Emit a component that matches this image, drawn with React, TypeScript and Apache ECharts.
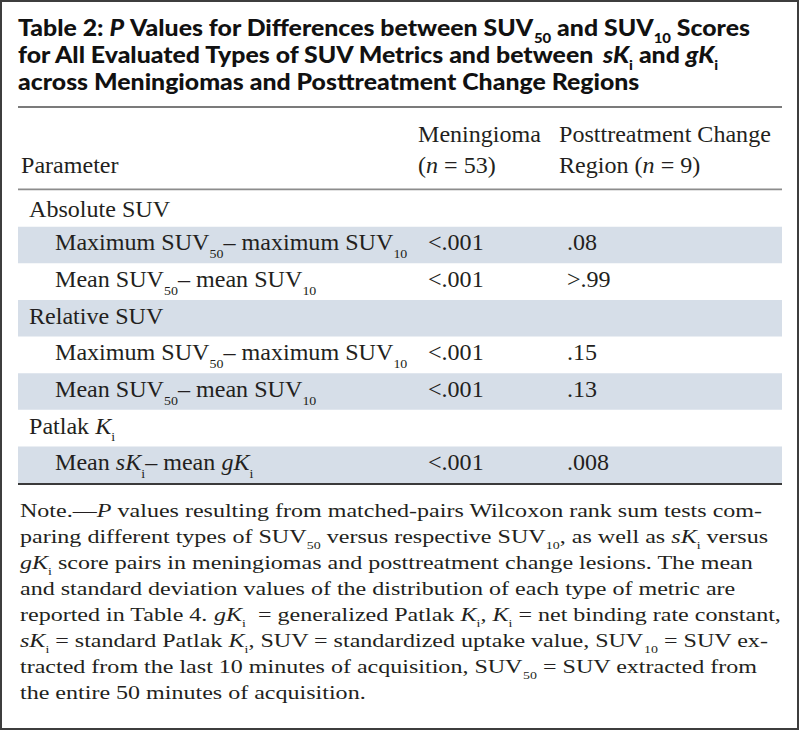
import React, { useEffect, useRef } from "react";
import * as echarts from "echarts";

// ---------- content ----------
const titleLines = [
  "Table 2: *P* Values for Differences between SUV_{50} and SUV_{10} Scores",
  "for All Evaluated Types of SUV Metrics and between *sK*_{i} and *gK*_{i}",
  "across Meningiomas and Posttreatment Change Regions",
];
const headerParameter = "Parameter";
const headerMeningioma = ["Meningioma", "(*n* = 53)"];
const headerPosttreatment = ["Posttreatment Change", "Region (*n* = 9)"];

const parameters = [
  "Absolute SUV",
  "Maximum SUV_{50}– maximum SUV_{10}",
  "Mean SUV_{50}– mean SUV_{10}",
  "Relative SUV",
  "Maximum SUV_{50}– maximum SUV_{10}",
  "Mean SUV_{50}– mean SUV_{10}",
  "Patlak *K*_{i}",
  "Mean *sK*_{i}– mean *gK*_{i}",
];
const isGroupRow = [true, false, false, true, false, false, true, false];
const shadedRow = [false, true, false, true, false, true, false, true];
const meningiomaP = ["", "<.001", "<.001", "", "<.001", "<.001", "", "<.001"];
const posttreatmentP = ["", ".08", ">.99", "", ".15", ".13", "", ".008"];

const noteLines = [
  "Note.—*P* values resulting from matched-pairs Wilcoxon rank sum tests com-",
  "paring different types of SUV_{50} versus respective SUV_{10}, as well as *sK*_{i} versus",
  "*gK*_{i} score pairs in meningiomas and posttreatment change lesions. The mean",
  "and standard deviation values of the distribution of each type of metric are",
  "reported in Table 4. *gK*_{i}  = generalized Patlak *K*_{i}, *K*_{i} = net binding rate constant,",
  "*sK*_{i} = standard Patlak *K*_{i}, SUV = standardized uptake value, SUV_{10} = SUV ex-",
  "tracted from the last 10 minutes of acquisition, SUV_{50} = SUV extracted from",
  "the entire 50 minutes of acquisition.",
];

// ---------- layout / style ----------
const W = 800;
const H = 731;
const TABLE_LEFT = 18;
const TABLE_RIGHT = 782;
const SERIF = '"Liberation Serif", "Times New Roman", serif';
const SANS = 'Lato, "Open Sans", sans-serif';
const INK = "#231f20";
const SHADE = "#d6dee8";

type Font = {
  family: string;
  size: number;
  weight: string;
  subRatio: number;
  subShift: number;
  centralK: number;
  fill: string;
  scaleX: number;
};

type Seg = { text: string; italic: boolean; sub: boolean };

function parse(m: string): Seg[] {
  const segs: Seg[] = [];
  let italic = false;
  let buf = "";
  let i = 0;
  const flush = () => {
    if (buf) segs.push({ text: buf, italic, sub: false });
    buf = "";
  };
  while (i < m.length) {
    const c = m[i];
    if (c === "*") {
      flush();
      italic = !italic;
      i++;
      continue;
    }
    if (c === "_" && m[i + 1] === "{") {
      flush();
      const end = m.indexOf("}", i);
      segs.push({ text: m.slice(i + 2, end), italic: false, sub: true });
      i = end + 1;
      continue;
    }
    buf += c;
    i++;
  }
  flush();
  return segs;
}

let ctx: CanvasRenderingContext2D | null = null;
function measure(text: string, font: string): number {
  if (!ctx) ctx = document.createElement("canvas").getContext("2d");
  if (!ctx) return text.length * 8;
  ctx.font = font;
  return ctx.measureText(text).width;
}

function fontStr(f: Font, italic: boolean, size: number) {
  return `${italic ? "italic " : ""}${f.weight} ${size}px ${f.family}`;
}

function layoutLine(markup: string, f: Font) {
  const segs = parse(markup);
  let cx = 0;
  const children: any[] = [];
  for (const s of segs) {
    const size = s.sub ? f.size * f.subRatio : f.size;
    const fs = fontStr(f, s.italic, size);
    const lead = (s.text.match(/^ */) as RegExpMatchArray)[0].length;
    const trail = (s.text.match(/ *$/) as RegExpMatchArray)[0].length;
    const core = s.text.trim();
    if (lead) cx += measure(" ".repeat(lead), fs);
    if (core) {
      const base = s.sub ? f.size * f.subShift : 0;
      children.push({
        type: "text",
        x: cx,
        y: base - f.centralK * size,
        silent: true,
        style: {
          text: core,
          fontFamily: f.family,
          fontSize: size,
          fontWeight: f.weight,
          fontStyle: s.italic ? "italic" : "normal",
          fill: f.fill,
          align: "left",
          verticalAlign: "middle",
        },
      });
      cx += measure(core, fs);
    }
    if (trail && core) cx += measure(" ".repeat(trail), fs);
  }
  return { children, width: cx };
}

function lineGroup(markup: string, f: Font, x: number, baseline: number) {
  const { children } = layoutLine(markup, f);
  return { type: "group", x, y: baseline, scaleX: f.scaleX, children };
}

function buildOption() {
  const titleFont: Font = {
    family: SANS,
    size: 22,
    weight: "900",
    subRatio: 0.6,
    subShift: 0.32,
    centralK: 0.387,
    fill: "#111111",
    scaleX: 1,
  };
  titleFont.scaleX = 732 / layoutLine(titleLines[0], titleFont).width;

  const bodyFont: Font = {
    family: SERIF,
    size: 23,
    weight: "normal",
    subRatio: 0.58,
    subShift: 0.34,
    centralK: 0.3375,
    fill: INK,
    scaleX: 1,
  };
  bodyFont.scaleX = 212 / layoutLine(headerPosttreatment[0], bodyFont).width;

  const noteFont: Font = {
    family: SERIF,
    size: 19.5,
    weight: "normal",
    subRatio: 0.58,
    subShift: 0.34,
    centralK: 0.3375,
    fill: INK,
    scaleX: 1,
  };
  noteFont.scaleX = 716 / layoutLine(noteLines[3], noteFont).width;

  const graphics: any[] = [];
  titleLines.forEach((l, k) => graphics.push(lineGroup(l, titleFont, 18, 36 + 27 * k)));
  graphics.push(lineGroup(headerParameter, bodyFont, 21, 173));
  headerMeningioma.forEach((l, k) => graphics.push(lineGroup(l, bodyFont, 418, 142 + 31 * k)));
  headerPosttreatment.forEach((l, k) => graphics.push(lineGroup(l, bodyFont, 559, 142 + 31 * k)));
  noteLines.forEach((l, k) => graphics.push(lineGroup(l, noteFont, 20, 517 + 26 * k)));

  // rules
  graphics.push({ type: "rect", z: 10, shape: { x: TABLE_LEFT, y: 106, width: TABLE_RIGHT - TABLE_LEFT, height: 2 }, style: { fill: "#7b7b7b" } });
  graphics.push({ type: "rect", z: 10, shape: { x: TABLE_LEFT, y: 188.5, width: TABLE_RIGHT - TABLE_LEFT, height: 1.8 }, style: { fill: "#8c8c8c" } });
  graphics.push({ type: "rect", z: 10, shape: { x: TABLE_LEFT, y: 483, width: TABLE_RIGHT - TABLE_LEFT, height: 2 }, style: { fill: "#3a3a3a" } });
  graphics.push({ type: "rect", z: 10, shape: { x: 1, y: 1, width: 797, height: 728 }, style: { fill: "none", stroke: "#3d3d3d", lineWidth: 2 } });

  return {
    animation: false,
    backgroundColor: "#ffffff",
    grid: { left: TABLE_LEFT, right: W - TABLE_RIGHT, top: 190, height: 293 },
    xAxis: { type: "value", min: 0, max: 1, show: false },
    yAxis: {
      type: "category",
      data: parameters.map((_, i) => String(i)),
      inverse: true,
      show: false,
    },
    graphic: { elements: graphics },
    series: [
      {
        type: "custom",
        silent: true,
        encode: { x: 0, y: 1 },
        data: parameters.map((_, i) => [0, i]),
        renderItem: (params: any, api: any) => {
          const i = params.dataIndex;
          const cs = params.coordSys;
          const cy = api.coord([0, i])[1];
          const bandH = api.size([0, 1])[1];
          const children: any[] = [];
          if (shadedRow[i]) {
            children.push({
              type: "rect",
              shape: { x: cs.x, y: cy - bandH / 2, width: cs.width, height: bandH },
              style: { fill: SHADE },
            });
          }
          const baseline = cy + 5.5 + (i === 0 ? 3.5 : 0);
          children.push(lineGroup(parameters[i], bodyFont, cs.x + (isGroupRow[i] ? 11 : 37), baseline));
          if (meningiomaP[i]) children.push(lineGroup(meningiomaP[i], bodyFont, 428, baseline));
          if (posttreatmentP[i]) children.push(lineGroup(posttreatmentP[i], bodyFont, 567, baseline));
          return { type: "group", children };
        },
      },
    ],
  };
}

export default function App() {
  const ref = useRef<HTMLDivElement>(null);
  useEffect(() => {
    const el = ref.current;
    if (!el) return;
    const chart = echarts.init(el, null, { renderer: "svg", width: W, height: H });
    chart.setOption(buildOption() as any);
    let alive = true;
    if ((document as any).fonts && (document as any).fonts.ready) {
      (document as any).fonts.ready.then(() => {
        if (alive) chart.setOption(buildOption() as any, true);
      });
    }
    return () => {
      alive = false;
      chart.dispose();
    };
  }, []);
  return (
    <div
      ref={ref}
      style={{ position: "fixed", left: 0, top: 0, width: W, height: H, background: "#fff" }}
    />
  );
}
